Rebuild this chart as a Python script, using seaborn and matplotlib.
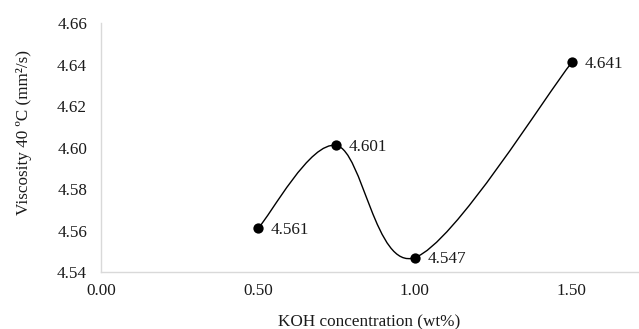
import numpy as np
import pandas as pd
import matplotlib
matplotlib.use("Agg")
import matplotlib.pyplot as plt
from matplotlib.path import Path
from matplotlib.patches import PathPatch
import seaborn as sns

# KOH loading and measured kinematic viscosity at 40 °C
koh_wt = [0.50, 0.75, 1.00, 1.50]
viscosity = [4.561, 4.601, 4.547, 4.641]
point_labels = ["4.561", "4.601", "4.547", "4.641"]

x_ticks = [0.0, 0.5, 1.0, 1.5]
y_ticks = [4.54, 4.56, 4.58, 4.60, 4.62, 4.64, 4.66]

sns.set_theme(style="white")
plt.rcParams["font.family"] = ["Liberation Serif", "DejaVu Serif"]

FS = 12.3
TXT = "#1a1a1a"

df = pd.DataFrame({"koh": koh_wt, "visc": viscosity})

fig = plt.figure(figsize=(6.39, 3.29), dpi=100)
ax = fig.add_axes([0.158, 0.173, 0.840, 0.757])

# smoothed connecting line (cubic Bezier segments, spreadsheet-style)
pts = np.column_stack([df["koh"].to_numpy(), df["visc"].to_numpy()])
verts = [tuple(pts[0])]
codes = [Path.MOVETO]
n = len(pts)
for i in range(n - 1):
    p0 = pts[i - 1] if i > 0 else pts[i]
    p1 = pts[i]
    p2 = pts[i + 1]
    p3 = pts[i + 2] if i + 2 < n else pts[i + 1]
    c1 = p1 + (p2 - p0) / 6.0
    c2 = p2 - (p3 - p1) / 6.0
    verts += [tuple(c1), tuple(c2), tuple(p2)]
    codes += [Path.CURVE4] * 3
ax.add_patch(PathPatch(Path(verts, codes), facecolor="none", edgecolor="black",
                       lw=1.0, zorder=2))

sns.scatterplot(data=df, x="koh", y="visc", ax=ax, color="black", s=55,
                edgecolor="black", linewidth=0, zorder=3, legend=False)

for xv, yv, lab in zip(koh_wt, viscosity, point_labels):
    ax.annotate(lab, (xv, yv), xytext=(9, -1), textcoords="offset points",
                ha="left", va="center", fontsize=FS, color=TXT)

ax.set_xlim(0, 1.71)
ax.set_ylim(4.54, 4.66)
ax.set_xticks(x_ticks)
ax.set_xticklabels([f"{v:.2f}" for v in x_ticks])
ax.set_yticks(y_ticks)
ax.set_yticklabels([f"{v:.2f}" for v in y_ticks])
ax.tick_params(axis="both", length=0, labelsize=FS, colors=TXT)
ax.tick_params(axis="x", pad=8)
ax.tick_params(axis="y", pad=10)

ax.set_xlabel("KOH concentration (wt%)", fontsize=FS, color=TXT, labelpad=11)
ax.set_ylabel("Viscosity 40 ºC (mm²/s)", fontsize=FS, color=TXT, labelpad=16)
ax.yaxis.set_label_coords(-0.128, 0.56)

for side in ["top", "right"]:
    ax.spines[side].set_visible(False)
for side in ["left", "bottom"]:
    ax.spines[side].set_color("#d9d9d9")
    ax.spines[side].set_linewidth(1.0)
ax.grid(False)

fig.savefig("out.png", dpi=100)
